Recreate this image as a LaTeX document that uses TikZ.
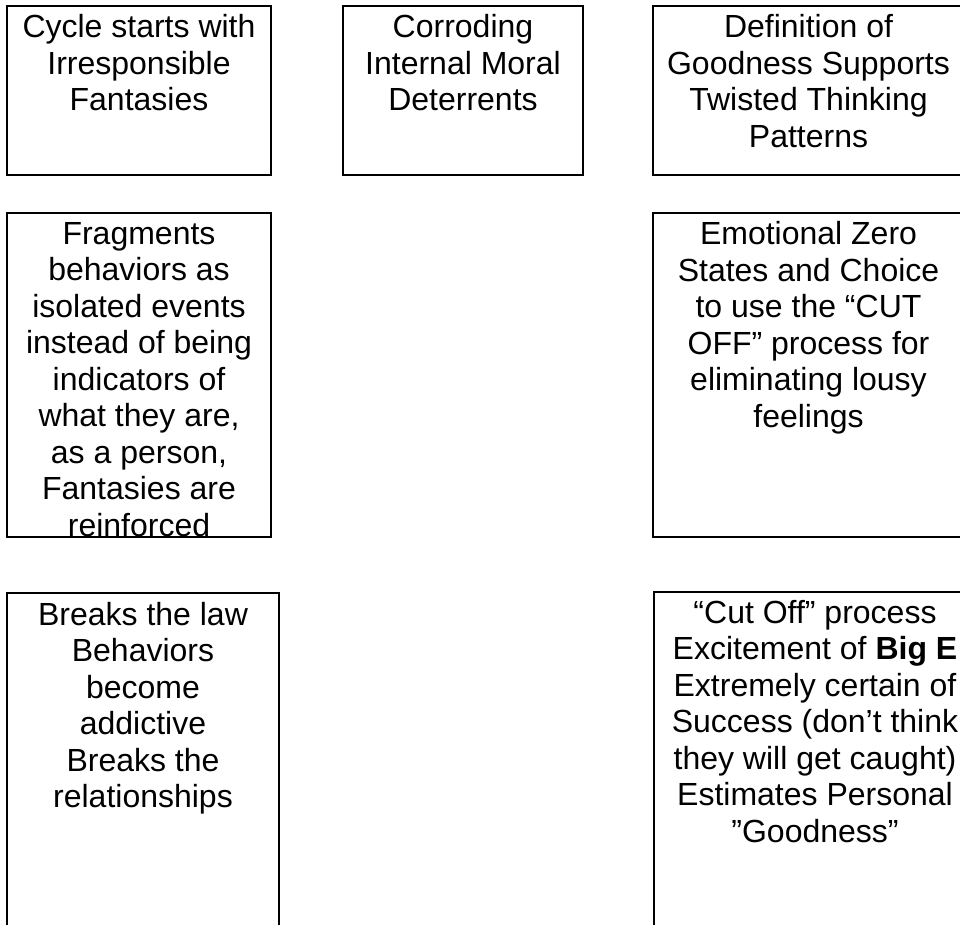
\documentclass[tikz,border=0pt]{standalone}
\usepackage{fontspec}
\setmainfont{Liberation Sans}
\begin{document}
\begin{tikzpicture}[x=1pt,y=-1pt,
  boxstyle/.style={draw=black, line width=2pt, rectangle, inner sep=0pt, outer sep=0pt, anchor=north west},
  txt/.style={anchor=north, align=center, inner sep=0pt, font=\fontsize{32}{36.5}\selectfont}]
\useasboundingbox (0,0) rectangle (960,924);
\clip (0,0) rectangle (960,924);
% boxes
\node[boxstyle, minimum width=264pt, minimum height=169pt] (b1) at (7,6) {};
\node[boxstyle, minimum width=240pt, minimum height=169pt] (b2) at (343,6) {};
\node[boxstyle, minimum width=311pt, minimum height=169pt] (b3) at (653,6) {};
\node[boxstyle, minimum width=264pt, minimum height=324pt] (b4) at (7,213) {};
\node[boxstyle, minimum width=311pt, minimum height=324pt] (b5) at (653,213) {};
\node[boxstyle, minimum width=272pt, minimum height=340pt] (b6) at (7,593) {};
\node[boxstyle, minimum width=324pt, minimum height=340pt] (b7) at (654,592) {};
% texts
\node[txt] (t1) at ([yshift=-8.5pt]b1.north) {Cycle starts with\\Irresponsible\\Fantasies};
\node[txt] (t2) at ([yshift=-8.5pt]b2.north) {Corroding\\Internal Moral\\Deterrents};
\node[txt] (t3) at ([yshift=-8.5pt]b3.north) {Definition of\\Goodness Supports\\Twisted Thinking\\Patterns};
\node[txt] (t4) at ([yshift=-9pt]b4.north) {Fragments\\behaviors as\\isolated events\\instead of being\\indicators of\\what they are,\\as a person,\\Fantasies are\\reinforced};
\node[txt] (t5) at ([yshift=-8.5pt]b5.north) {Emotional Zero\\States and Choice\\to use the “CUT\\OFF” process for\\eliminating lousy\\feelings};
\node[txt] (t6) at ([yshift=-9pt]b6.north) {Breaks the law\\Behaviors\\become\\addictive\\Breaks the\\relationships};
\node[txt] (t7) at ([yshift=-8pt,xshift=-1pt]b7.north) {“Cut Off” process\\Excitement of \textbf{Big E}\\Extremely certain of\\Success (don’t think\\they will get caught)\\Estimates Personal\\”Goodness”};
\end{tikzpicture}
\end{document}
